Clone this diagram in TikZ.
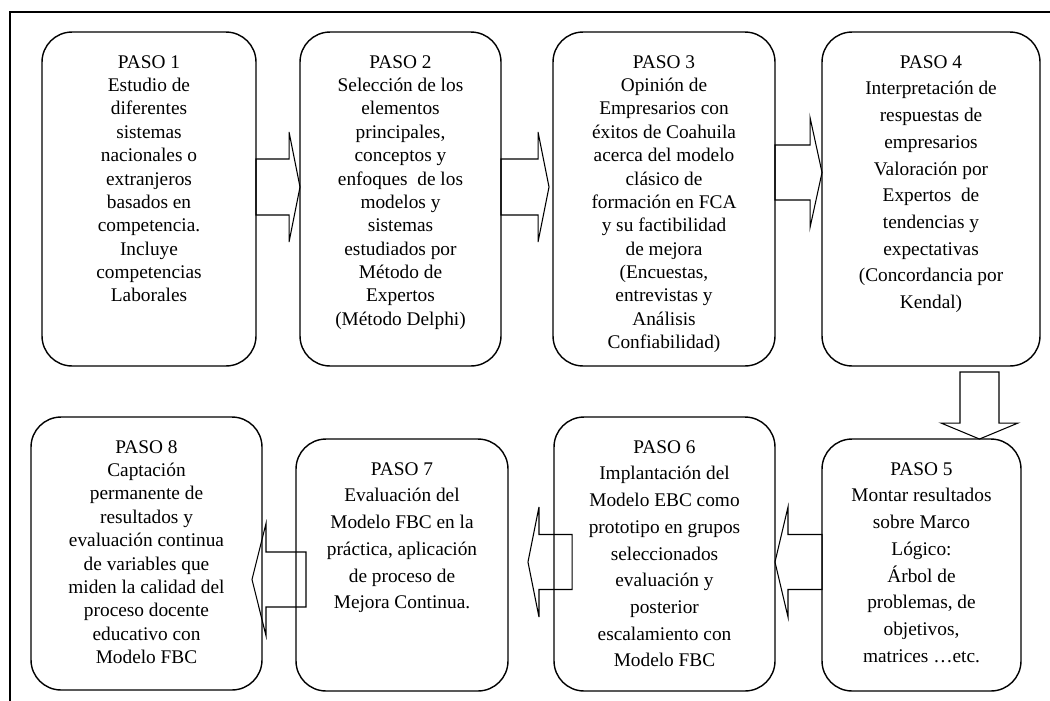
\documentclass[tikz,border=0pt]{standalone}
\usepackage{fontspec}
\setmainfont{Liberation Serif}
\usepackage{tikz}
\usetikzlibrary{positioning,calc}

% block arrow: tail, tip, half shaft, half head, head length
\newcommand{\fatarrow}[5]{%
  \coordinate (hb) at ($(#2)!#5!(#1)$);
  \draw[flecha] ($(#1)!#3!90:(#2)$) -- ($(hb)!#3!-90:(#1)$) -- ($(hb)!#4!-90:(#1)$)
    -- (#2) -- ($(hb)!#4!90:(#1)$) -- ($(hb)!#3!90:(#1)$) -- ($(#1)!#3!-90:(#2)$) -- cycle;
}

\begin{document}
\begin{tikzpicture}[x=0.02cm,y=-0.02cm,
    paso/.style={draw, line width=0.8pt, rounded corners=0.6cm, outer sep=0pt},
    txt/.style={align=center, inner sep=0pt, font=\fontsize{11}{13.3}\selectfont},
    txtb/.style={align=center, inner sep=0pt, font=\fontsize{11}{15.2}\selectfont},
    flecha/.style={line width=0.6pt}]
  \clip (0,0) rectangle (1050,700);
  \draw[line width=0.75pt] (10,12) rectangle (1070,720);

  % top row
  \node[paso, minimum width=4.28cm, minimum height=6.68cm] (p1) at (149,199) {};
  \node[paso, minimum width=4.02cm, minimum height=6.68cm] (p2) at (400.5,199) {};
  \node[paso, minimum width=4.44cm, minimum height=6.68cm] (p3) at (664,199) {};
  \node[paso, minimum width=4.36cm, minimum height=6.68cm] (p4) at (931,199) {};
  % bottom row
  \node[paso, minimum width=3.98cm, minimum height=5.04cm] (p5) at (921.5,565) {};
  \node[paso, minimum width=4.42cm, minimum height=5.48cm] (p6) at (664.5,554) {};
  \node[paso, minimum width=4.24cm, minimum height=5.04cm] (p7) at (402,565) {};
  \node[paso, minimum width=4.62cm, minimum height=5.46cm] (p8) at (146.5,553.5) {};

  \node[txt, below=0.46cm of p1.north] (t1) {PASO 1\\Estudio de\\diferentes\\sistemas\\nacionales o\\extranjeros\\basados en\\competencia.\\Incluye\\competencias\\Laborales};
  \node[txt, below=0.46cm of p2.north] (t2) {PASO 2\\Selección de los\\elementos\\principales,\\conceptos y\\enfoques \ de los\\modelos y\\sistemas\\estudiados por\\Método de\\Expertos\\(Método Delphi)};
  \node[txt, below=0.46cm of p3.north] (t3) {PASO 3\\Opinión de\\Empresarios con\\éxitos de Coahuila\\acerca del modelo\\clásico de\\formación en FCA\\y su factibilidad\\de mejora\\(Encuestas,\\entrevistas y\\Análisis\\Confiabilidad)};
  \node[txtb, below=0.46cm of p4.north] (t4) {PASO 4\\Interpretación de\\respuestas de\\empresarios\\Valoración por\\Expertos \ de\\tendencias y\\expectativas\\(Concordancia por\\Kendal)};
  \node[txtb, below=0.46cm of p5.north] (t5) {PASO 5\\Montar resultados\\sobre Marco\\Lógico:\\Árbol de\\problemas, de\\objetivos,\\matrices …etc.};
  \node[txtb, below=0.46cm of p6.north] (t6) {PASO 6\\Implantación del\\Modelo EBC como\\prototipo en grupos\\seleccionados\\evaluación y\\posterior\\escalamiento con\\Modelo FBC};
  \node[txtb, below=0.46cm of p7.north] (t7) {PASO 7\\Evaluación del\\Modelo FBC en la\\práctica, aplicación\\de proceso de\\Mejora Continua.};
  \node[txt, below=0.46cm of p8.north] (t8) {PASO 8\\Captación\\permanente de\\resultados y\\evaluación continua\\de variables que\\miden la calidad del\\proceso docente\\educativo con\\Modelo FBC};

  % arrows
  \coordinate (a12) at ([yshift=0.24cm]p1.east);
  \coordinate (b12) at ([yshift=0.24cm]p2.west);
  \coordinate (a23) at ([yshift=0.24cm]p2.east);
  \coordinate (b23) at ([xshift=-0.08cm,yshift=0.24cm]p3.west);
  \coordinate (a34) at ([yshift=0.53cm]p3.east);
  \coordinate (b34) at ([yshift=0.53cm]p4.west);
  \coordinate (a45) at (979.5,372);
  \coordinate (b45) at (a45 |- p5.north);
  \coordinate (a56) at ([yshift=0.06cm]p5.west);
  \coordinate (b56) at ([yshift=-0.16cm]p6.east);
  \coordinate (a67) at ([xshift=0.36cm,yshift=-0.16cm]p6.west);
  \coordinate (b67) at ([xshift=0.4cm,yshift=0.06cm]p7.east);
  \coordinate (a78) at ([xshift=0.2cm,yshift=-0.29cm]p7.west);
  \coordinate (b78) at ([xshift=-0.2cm,yshift=-0.52cm]p8.east);

  \fatarrow{a12}{b12}{0.56cm}{1.1cm}{0.22cm}
  \fatarrow{a23}{b23}{0.56cm}{1.1cm}{0.22cm}
  \fatarrow{a34}{b34}{0.55cm}{1.1cm}{0.24cm}
  \fatarrow{a45}{b45}{0.39cm}{0.77cm}{0.32cm}
  \fatarrow{a56}{b56}{0.55cm}{1.1cm}{0.26cm}
  \fatarrow{a67}{b67}{0.55cm}{1.1cm}{0.22cm}
  \fatarrow{a78}{b78}{0.55cm}{1.12cm}{0.28cm}
\end{tikzpicture}
\end{document}
